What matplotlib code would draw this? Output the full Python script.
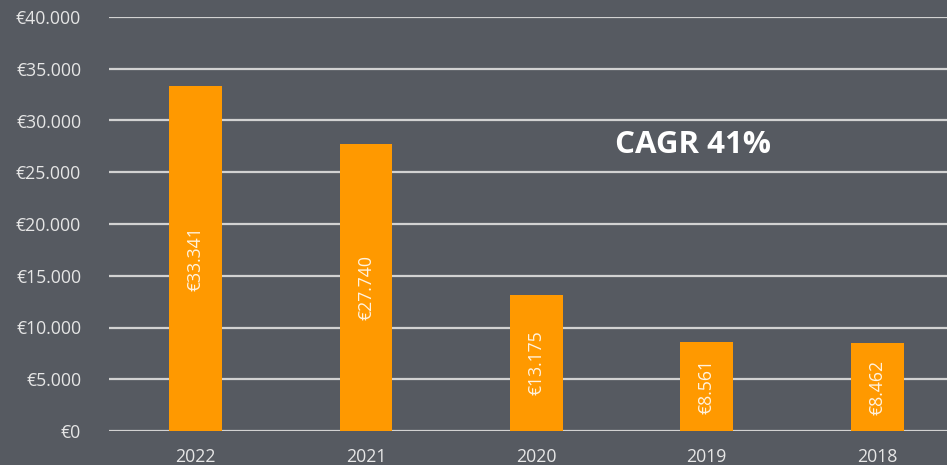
import matplotlib
matplotlib.use("Agg")
import matplotlib.pyplot as plt
from matplotlib.ticker import FuncFormatter

years = ["2022", "2021", "2020", "2019", "2018"]
values = [33341, 27740, 13175, 8561, 8462]
value_labels = ["€33.341", "€27.740", "€13.175", "€8.561", "€8.462"]
yticks = [0, 5000, 10000, 15000, 20000, 25000, 30000, 35000, 40000]
annotation = "CAGR 41%"

bg = "#565a61"
orange = "#ff9900"
txt = "#e6e6e6"
grid = "#d2d2d2"

plt.rcParams["font.family"] = ["Open Sans", "DejaVu Sans"]

fig = plt.figure(figsize=(9.47, 4.65), dpi=100, facecolor=bg)
ax = fig.add_axes([109/947, 1 - 431/465, 1 - 109/947, (431 - 17)/465])
ax.set_facecolor(bg)

x = list(range(len(years)))
bars = ax.bar(x, values, width=0.31, color=orange, zorder=3)

ax.set_ylim(0, 40000)
ax.set_xlim(-0.509, 4.41)
ax.set_yticks(yticks)
ax.yaxis.set_major_formatter(FuncFormatter(lambda v, p: "€" + f"{int(v):,}".replace(",", ".")))
ax.set_xticks(x)
ax.set_xticklabels(years)
ax.tick_params(axis="both", length=0, colors=txt, labelsize=12.7)
ax.tick_params(axis="y", pad=20)
ax.tick_params(axis="x", pad=12)
for s in ax.spines.values():
    s.set_visible(False)
ax.grid(axis="y", color=grid, linewidth=1.6, zorder=1)
ax.set_axisbelow(True)

for xi, v, lab in zip(x, values, value_labels):
    ax.text(xi, v / 2, lab, rotation=90, ha="center", va="center",
            color="#fff3e0", fontsize=12.7, zorder=4)

ax.text(2.92, 27630, annotation, ha="center", va="center", color="white",
        fontsize=22.5, fontweight="bold")

fig.savefig("out.png", dpi=100, facecolor=bg)
